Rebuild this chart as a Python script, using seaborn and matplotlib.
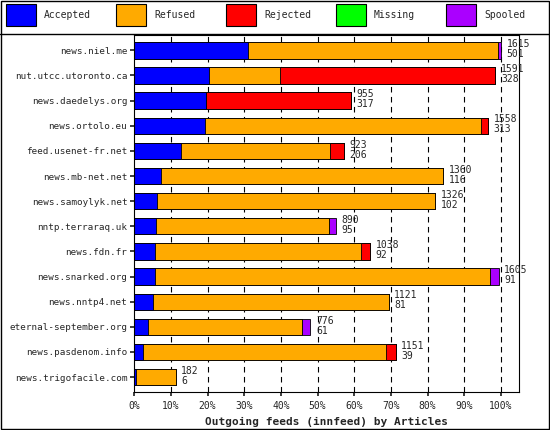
import matplotlib
matplotlib.use("Agg")
import matplotlib.pyplot as plt
import seaborn as sns
import pandas as pd
import numpy as np
from matplotlib.patches import Rectangle

hosts = ["news.niel.me", "nut.utcc.utoronto.ca", "news.daedelys.org", "news.ortolo.eu",
         "feed.usenet-fr.net", "news.mb-net.net", "news.samoylyk.net", "nntp.terraraq.uk",
         "news.fdn.fr", "news.snarked.org", "news.nntp4.net", "eternal-september.org",
         "news.pasdenom.info", "news.trigofacile.com"]
accepted = [501, 328, 317, 313, 206, 116, 102, 95, 92, 91, 81, 61, 39, 6]
refused  = [1103, 313, 0, 1214, 657, 1244, 1224, 765, 906, 1474, 1040, 680, 1070, 176]
rejected = [0, 950, 638, 31, 60, 0, 0, 0, 40, 0, 0, 0, 42, 0]
missing  = [0] * 14
spooled  = [11, 0, 0, 0, 0, 0, 0, 30, 0, 40, 0, 35, 0, 0]
totals   = [1615, 1591, 955, 1558, 923, 1360, 1326, 890, 1038, 1605, 1121, 776, 1151, 182]

names = ["Accepted", "Refused", "Rejected", "Missing", "Spooled"]
colors = ["#0000ff", "#ffaa00", "#ff0000", "#00ff00", "#aa00ff"]
series = [accepted, refused, rejected, missing, spooled]
mx = max(totals)

sns.set_theme(style="white")
plt.rcParams["font.family"] = ["DejaVu Sans Mono"]
fig = plt.figure(figsize=(5.5, 4.3), dpi=100)
ax = fig.add_axes([0.244, 0.088, 0.70, 0.83])

cum = np.cumsum(np.array(series, dtype=float), axis=0) / mx * 100
for i in range(4, -1, -1):
    df = pd.DataFrame({"host": hosts, "v": cum[i]})
    sns.barplot(data=df, y="host", x="v", color=colors[i], saturation=1,
                edgecolor="black", linewidth=0.6, width=0.65, ax=ax, orient="h")

for k, (t, a) in enumerate(zip(totals, accepted)):
    x = t / mx * 100 + 1.5
    ax.text(x, k - 0.05, str(t), fontsize=7, va="bottom", ha="left")
    ax.text(x, k - 0.05, str(a), fontsize=7, va="top", ha="left")

ax.set_xlim(0, 105)
ax.set_ylim(13.6, -0.6)
ax.set_xticks(np.arange(0, 101, 10))
ax.set_xticklabels([f"{v}%" for v in range(0, 101, 10)], fontsize=7)
ax.tick_params(axis="y", labelsize=6.7, length=3, left=True, pad=2)
ax.tick_params(axis="x", length=3, bottom=True)
for v in range(10, 101, 10):
    ax.axvline(v, color="black", ls=(0, (5, 4)), lw=0.8, zorder=0)
ax.set_ylabel("")
ax.set_xlabel("Outgoing feeds (innfeed) by Articles", fontsize=8, fontweight="bold")
for s in ax.spines.values():
    s.set_color("black"); s.set_linewidth(0.8)

fig.add_artist(Rectangle((0.002, 0.002), 0.996, 0.996, transform=fig.transFigure,
                         fill=False, edgecolor="black", lw=1))
fig.add_artist(plt.Line2D([0, 1], [0.92, 0.92], transform=fig.transFigure, color="black", lw=1))
for i, (n, c) in enumerate(zip(names, colors)):
    x0 = 0.01 + i * 0.2
    fig.add_artist(Rectangle((x0, 0.94), 0.055, 0.05, transform=fig.transFigure,
                             facecolor=c, edgecolor="black", lw=0.8))
    fig.text(x0 + 0.07, 0.965, n, fontsize=7, va="center")

fig.savefig("out.png", dpi=100, facecolor="white")
